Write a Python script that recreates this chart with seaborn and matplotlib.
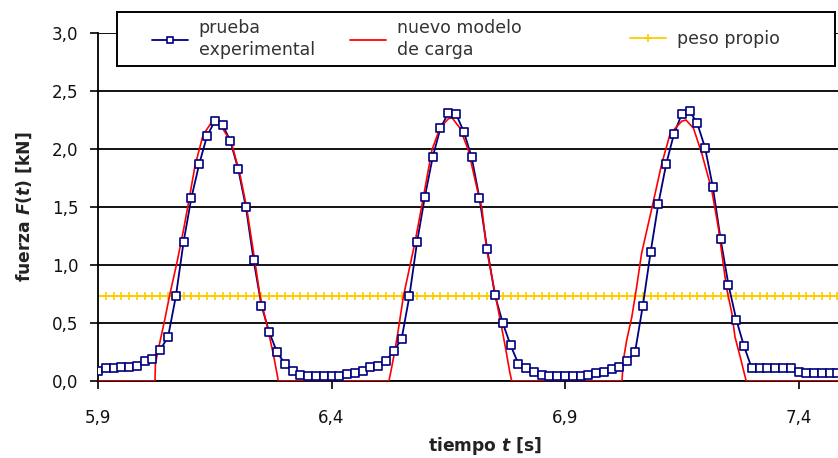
import numpy as np
import pandas as pd
import matplotlib
matplotlib.use("Agg")
import matplotlib.pyplot as plt
import seaborn as sns
from matplotlib.lines import Line2D
from matplotlib.patches import Rectangle

# ---- data -------------------------------------------------------------
SAMPLE_RATE = 60          # Hz, measured force signal
T0 = 5.9                  # s, first sample shown

fuerza_exp = [
    0.09, 0.11, 0.11, 0.12, 0.12, 0.13, 0.17, 0.19, 0.27, 0.38,
    0.73, 1.20, 1.58, 1.87, 2.11, 2.24, 2.21, 2.07, 1.83, 1.50,
    1.04, 0.65, 0.42, 0.25, 0.15, 0.09, 0.05, 0.04, 0.04, 0.04,
    0.04, 0.04, 0.06, 0.07, 0.09, 0.12, 0.13, 0.17, 0.26, 0.36,
    0.73, 1.20, 1.59, 1.93, 2.18, 2.31, 2.30, 2.15, 1.93, 1.58,
    1.14, 0.74, 0.50, 0.31, 0.15, 0.11, 0.08, 0.05, 0.04, 0.04,
    0.04, 0.04, 0.04, 0.05, 0.07, 0.08, 0.10, 0.12, 0.17, 0.25,
    0.65, 1.11, 1.53, 1.87, 2.13, 2.30, 2.33, 2.22, 2.01, 1.67,
    1.22, 0.83, 0.53, 0.30, 0.11, 0.11, 0.11, 0.11, 0.11, 0.11,
    0.08, 0.07, 0.07, 0.07, 0.07, 0.07, 0.07,
]

modelo_t = [
    5.900, 6.022, 6.023, 6.029, 6.036, 6.043, 6.054, 6.069, 6.083, 6.093,
    6.108, 6.125, 6.143, 6.153, 6.165, 6.186, 6.204, 6.218, 6.236, 6.247,
    6.264, 6.275, 6.283, 6.286,
    6.523, 6.529, 6.536, 6.543, 6.554, 6.579, 6.597, 6.615, 6.632, 6.650,
    6.658, 6.675, 6.693, 6.711, 6.722, 6.732, 6.750, 6.761, 6.772, 6.782,
    6.786,
    7.022, 7.025, 7.032, 7.043, 7.053, 7.064, 7.086, 7.107, 7.125, 7.150,
    7.159, 7.175, 7.193, 7.214, 7.228, 7.246, 7.257, 7.264, 7.275, 7.288,
    7.500,
]
modelo_f = [
    0.00, 0.00, 0.15, 0.27, 0.40, 0.53, 0.75, 1.02, 1.30, 1.52,
    1.86, 2.12, 2.23, 2.24, 2.19, 2.05, 1.78, 1.50, 1.03, 0.73,
    0.44, 0.24, 0.07, 0.00,
    0.00, 0.12, 0.27, 0.44, 0.73, 1.20, 1.59, 1.99, 2.18, 2.26,
    2.27, 2.18, 1.99, 1.67, 1.49, 1.14, 0.76, 0.53, 0.30, 0.07,
    0.00,
    0.00, 0.18, 0.35, 0.55, 0.80, 1.10, 1.49, 1.87, 2.13, 2.24,
    2.25, 2.18, 1.96, 1.65, 1.33, 0.80, 0.59, 0.38, 0.21, 0.00,
    0.00,
]

PESO_PROPIO = 0.73        # kN

x_ticks = [5.9, 6.4, 6.9, 7.4]
x_ticklabels = ["5,9", "6,4", "6,9", "7,4"]
y_ticks = [0.0, 0.5, 1.0, 1.5, 2.0, 2.5, 3.0]
y_ticklabels = ["0,0", "0,5", "1,0", "1,5", "2,0", "2,5", "3,0"]

labels = ["prueba\nexperimental", "nuevo modelo\nde carga", "peso propio"]

# ---- tables -----------------------------------------------------------
t_exp = np.round(T0 + np.arange(len(fuerza_exp)) / SAMPLE_RATE, 4)
df_exp = pd.DataFrame({"t": t_exp, "F": fuerza_exp})
df_mod = pd.DataFrame({"t": modelo_t, "F": modelo_f})
df_peso = pd.DataFrame({"t": t_exp, "F": np.full(len(t_exp), PESO_PROPIO)})

# ---- style ------------------------------------------------------------
sns.set_theme(style="ticks")
plt.rcParams.update({
    "font.family": ["DejaVu Sans"],
    "mathtext.fontset": "custom",
    "mathtext.it": "DejaVu Sans:italic:bold",
    "mathtext.rm": "DejaVu Sans:bold",
    "mathtext.bf": "DejaVu Sans:bold",
})

BLUE = "#000080"
RED = "#FF0000"
GOLD = "#FFCC00"

W, H = 838, 458
fig = plt.figure(figsize=(W / 100, H / 100), dpi=100)
fig.patch.set_facecolor("white")
ax = fig.add_axes([98 / W, 1 - 381 / H, 774 / W, 348 / H])

# self-weight reference line
sns.lineplot(data=df_peso, x="t", y="F", color=GOLD, lw=1.3, ax=ax,
             sort=False, estimator=None, zorder=2)
sns.scatterplot(data=df_peso, x="t", y="F", marker="+", s=32, color=GOLD,
                linewidth=1.2, ax=ax, zorder=2)
# measured signal
sns.lineplot(data=df_exp, x="t", y="F", color=BLUE, lw=1.3, ax=ax,
             sort=False, estimator=None, zorder=3)
# load model
sns.lineplot(data=df_mod, x="t", y="F", color=RED, lw=1.2, ax=ax,
             sort=False, estimator=None, zorder=4)
sns.scatterplot(data=df_exp, x="t", y="F", marker="s", s=26,
                facecolor="white", edgecolor=BLUE, linewidth=1.2,
                ax=ax, zorder=5)

ax.set_xlim(5.9, 5.9 + 774 / 467)
ax.set_ylim(0, 3.0)
ax.set_xticks(x_ticks)
ax.set_xticklabels(x_ticklabels)
ax.set_yticks(y_ticks)
ax.set_yticklabels(y_ticklabels)

ax.set_axisbelow(True)
ax.yaxis.grid(True, color="black", lw=1.3)
ax.xaxis.grid(False)
for side in ("top", "right"):
    ax.spines[side].set_visible(False)
for side in ("left", "bottom"):
    ax.spines[side].set_color("black")
    ax.spines[side].set_linewidth(1.3)

ax.tick_params(axis="both", direction="out", length=5.5, width=1.2,
               colors="black", labelsize=12)
ax.tick_params(axis="y", pad=8.5)
ax.tick_params(axis="x", pad=15)
for lab in ax.get_xticklabels() + ax.get_yticklabels():
    lab.set_color("#111111")

ax.set_xlabel(r"tiempo $t$ [s]", fontsize=12.3, fontweight="bold",
              color="#222222", labelpad=5.5)
ax.set_ylabel(r"fuerza $F(t)$ [kN]", fontsize=12.3, fontweight="bold",
              color="#222222", labelpad=13)

# legend frame and entries
fig.add_artist(Rectangle((117 / W, 1 - 66 / H), 718 / W, 54 / H,
                         transform=fig.transFigure, facecolor="white",
                         edgecolor="black", lw=1.4, zorder=3))

handles = [
    Line2D([], [], color=BLUE, lw=1.3, marker="s", ms=5, mfc="white",
           mec=BLUE, mew=1.2),
    Line2D([], [], color=RED, lw=1.3),
    Line2D([], [], color=GOLD, lw=1.3, marker="+", ms=6, mew=1.2),
]
entry_x = [152, 350, 630]
for h, lab, x in zip(handles, labels, entry_x):
    leg = fig.legend(handles=[h], labels=[lab], loc="center left",
                     bbox_to_anchor=(x / W, 1 - 39 / H), frameon=False,
                     fontsize=12.5, handlelength=2.1, handletextpad=0.6,
                     borderpad=0, borderaxespad=0, labelcolor="#333333",
                     numpoints=1)
    for txt in leg.get_texts():
        txt.set_linespacing(1.3)

fig.savefig("out.png", dpi=100)
